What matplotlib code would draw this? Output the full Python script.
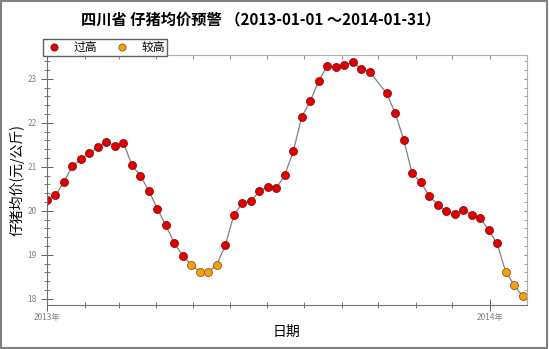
import numpy as np
import pandas as pd
import matplotlib.pyplot as plt
import matplotlib.dates as mdates
from matplotlib.ticker import MultipleLocator

plt.rcParams['font.family'] = ['Noto Sans CJK SC', 'DejaVu Sans']

# weekly prices, one week (index 39) missing in the source
weeks = pd.date_range('2013-01-01', periods=57, freq='7D')
dates = weeks.delete(39)
price = [20.25, 20.35, 20.66, 21.02, 21.17, 21.31, 21.45, 21.56, 21.48, 21.55,
         21.04, 20.80, 20.45, 20.05, 19.67, 19.26, 18.98, 18.77, 18.62, 18.60,
         18.78, 19.22, 19.91, 20.17, 20.22, 20.45, 20.55, 20.51, 20.82, 21.35,
         22.14, 22.49, 22.96, 23.29, 23.26, 23.32, 23.38, 23.23, 23.16, 22.67,
         22.22, 21.62, 20.85, 20.66, 20.34, 20.14, 20.00, 19.93, 20.02, 19.91,
         19.83, 19.57, 19.26, 18.62, 18.32, 18.06]
level = ['过高'] * 17 + ['较高'] * 4 + ['过高'] * 32 + ['较高'] * 3
level_colors = {'过高': '#e00000', '较高': '#f0a010'}

df = pd.DataFrame({'date': dates, 'price': price, 'level': level})

fig = plt.figure(figsize=(5.49, 3.49), dpi=100)
ax = fig.add_axes([0.0856, 0.126, 0.874, 0.716])

ax.plot(df['date'], df['price'], color='#808080', lw=0.9, zorder=1)
for name, grp in df.groupby('level', sort=False):
    ax.plot(grp['date'], grp['price'], 'o', ms=5.8, color=level_colors[name],
            mec='#904000' if name == '较高' else '#800000', mew=0.5,
            label=name, zorder=2)

ax.set_xlim(pd.Timestamp('2013-01-01'), pd.Timestamp('2014-01-31 12:00'))
ax.set_ylim(17.86, 23.54)

ax.xaxis.set_major_locator(mdates.YearLocator())
ax.xaxis.set_major_formatter(mdates.DateFormatter('%Y年'))
ax.xaxis.set_minor_locator(mdates.MonthLocator())
ax.yaxis.set_major_locator(MultipleLocator(1))
ax.yaxis.set_minor_locator(MultipleLocator(0.2))

ax.tick_params(which='major', direction='inout', length=8, width=0.7,
               color='#606060', labelsize=6, labelcolor='#808080')
ax.tick_params(which='minor', direction='inout', length=4, width=0.6,
               color='#606060')
ax.tick_params(axis='x', which='major', pad=2)

for s in ['left', 'bottom']:
    ax.spines[s].set_color('#707070')
for s in ['top', 'right']:
    ax.spines[s].set_color('#b0b0b0')

top = ax.secondary_xaxis('top')
top.xaxis.set_major_locator(mdates.MonthLocator())
top.tick_params(direction='in', length=3, color='#909090', labeltop=False)
top.spines['top'].set_visible(False)
right = ax.secondary_yaxis('right')
right.yaxis.set_major_locator(MultipleLocator(1))
right.yaxis.set_minor_locator(MultipleLocator(0.2))
right.tick_params(which='both', direction='in', length=2.5, color='#909090',
                  labelright=False)
right.spines['right'].set_visible(False)

ax.set_xlabel('日期', fontsize=10, labelpad=2)
ax.set_ylabel('仔猪均价(元/公斤)', fontsize=10)
ax.yaxis.set_label_coords(-0.047, 0.5)

fig.text(0.475, 0.945, '四川省 仔猪均价预警 （2013-01-01 ～2014-01-31）',
         ha='center', va='center', fontsize=11, fontweight='semibold')

fig.legend(loc='upper left', bbox_to_anchor=(0.068, 0.905), ncol=2,
           fancybox=False, edgecolor='#606060', framealpha=1, fontsize=8.5,
           handletextpad=0.9, columnspacing=1.4, borderpad=0.15,
           handlelength=1.5, markerscale=0.9)

fig.patches.append(plt.Rectangle((0.002, 0.003), 0.995, 0.994,
                                 transform=fig.transFigure, fill=False,
                                 edgecolor='#808080', lw=1.5))

fig.savefig('out.png', dpi=100)
